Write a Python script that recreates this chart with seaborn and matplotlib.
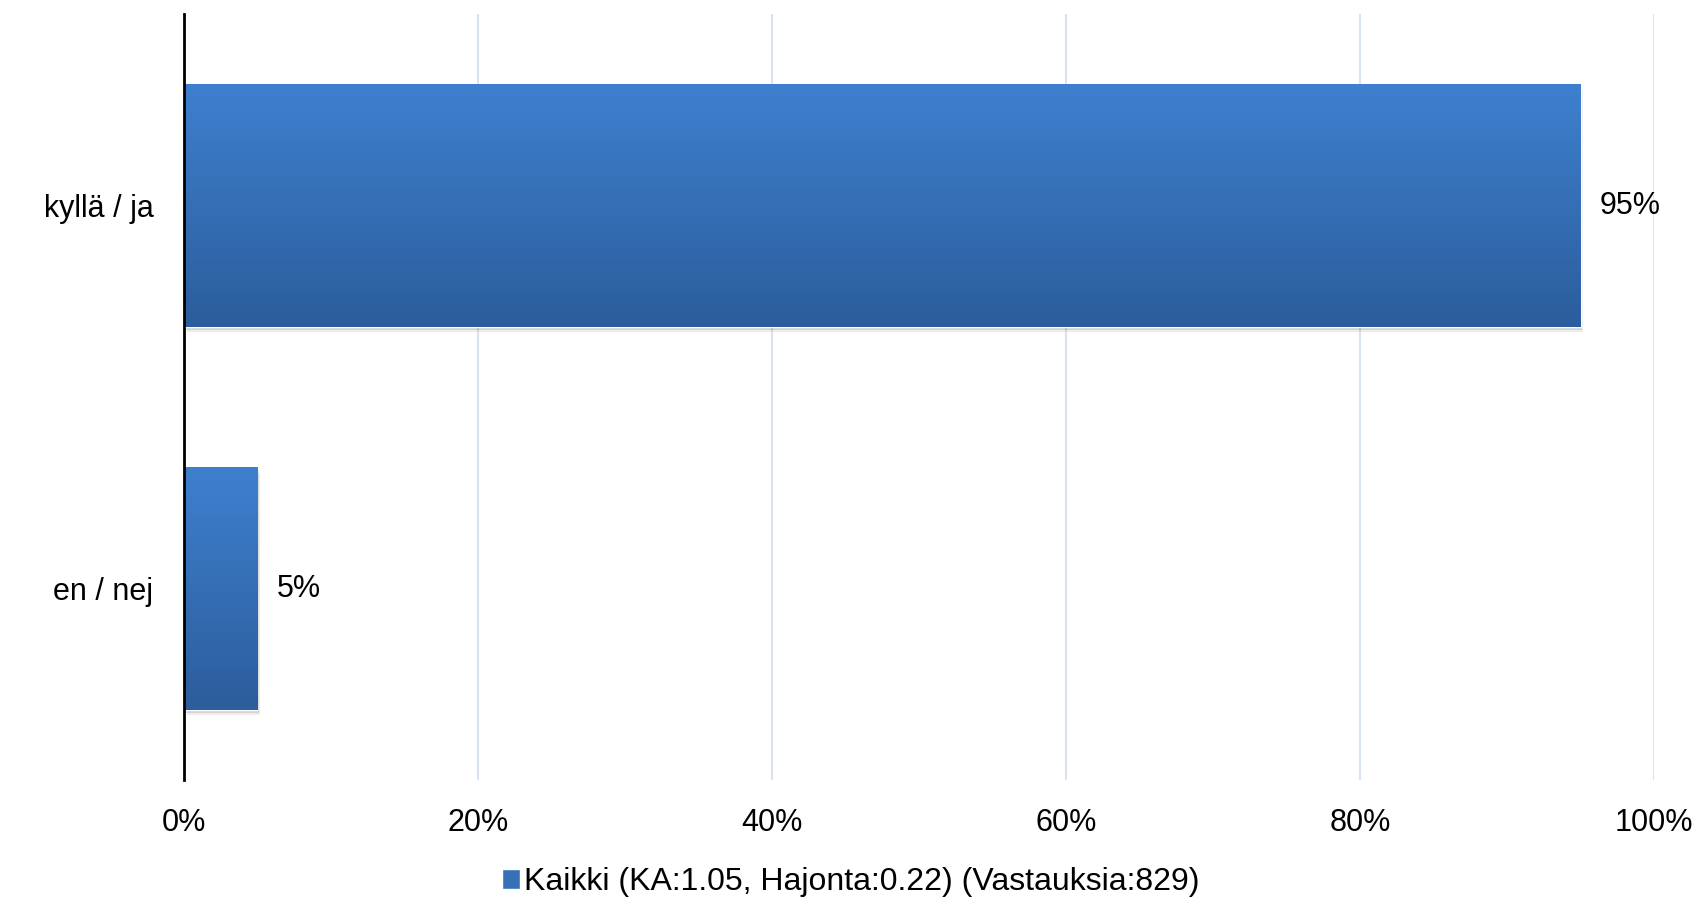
import matplotlib
matplotlib.use("Agg")
import matplotlib.pyplot as plt
import matplotlib.patheffects as pe
from matplotlib.colors import LinearSegmentedColormap
import numpy as np
import pandas as pd
import seaborn as sns

categories = ["kyllä / ja", "en / nej"]
values = [95, 5]
value_labels = ["95%", "5%"]
x_ticks = [0, 20, 40, 60, 80, 100]
x_tick_labels = ["0%", "20%", "40%", "60%", "80%", "100%"]
series_label = "Kaikki (KA:1.05, Hajonta:0.22) (Vastauksia:829)"

sns.set_theme(style="white")
plt.rcParams["font.family"] = ["Liberation Sans", "DejaVu Sans"]
plt.rcParams["text.color"] = "black"

top_c = "#3E80CF"
bot_c = "#2C5D9C"
mid_c = "#3570B8"

fig = plt.figure(figsize=(17.02, 8.98), dpi=100)
ax = fig.add_axes([0.1081, 0.1314, 0.8637, 0.853])
df = pd.DataFrame({"cat": categories, "val": values})
sns.barplot(data=df, y="cat", x="val", orient="h", color=mid_c, width=0.634,
            saturation=1, ax=ax, label=series_label, zorder=3)
if ax.get_legend() is not None:
    ax.get_legend().remove()

cmap = LinearSegmentedColormap.from_list("g", [top_c, bot_c])
grad = np.linspace(0, 1, 256).reshape(-1, 1)
for p in ax.patches:
    x0, y0 = p.get_x(), p.get_y()
    w, h = p.get_width(), p.get_height()
    p.set_path_effects([pe.SimplePatchShadow(offset=(1, -2), alpha=0.12, shadow_rgbFace="k"),
                        pe.SimplePatchShadow(offset=(2, -4), alpha=0.08, shadow_rgbFace="k"),
                        pe.Normal()])
    im = ax.imshow(grad, cmap=cmap, aspect="auto", extent=(x0, x0 + w, y0 + h, y0),
                   origin="upper", zorder=3.5, interpolation="bilinear")
    im.set_clip_path(p)

ax.set_xlim(0, 100)
ax.set_ylim(1.5, -0.5)
ax.set_xticks(x_ticks)
ax.set_xticklabels(x_tick_labels)
ax.set_xlabel("")
ax.set_ylabel("")
ax.xaxis.grid(True, color="#D9E4F0", lw=1.5)
ax.yaxis.grid(False)
ax.set_axisbelow(True)
for s in ["top", "right", "bottom"]:
    ax.spines[s].set_visible(False)
ax.spines["left"].set_color("black")
ax.spines["left"].set_linewidth(2)
ax.spines["left"].set_zorder(5)
ax.tick_params(axis="x", length=0, labelsize=22, pad=20, colors="black")
ax.tick_params(axis="y", length=0, labelsize=22, pad=22, colors="black")

ax.bar_label(ax.containers[0], labels=value_labels, padding=14, fontsize=22, color="black")

handles, labels = ax.get_legend_handles_labels()
leg = fig.legend(handles, labels, loc="lower center", bbox_to_anchor=(0.5, -0.024),
                 frameon=False, fontsize=23, handlelength=0.55, handleheight=0.55,
                 handletextpad=0.15, borderpad=0.2, labelcolor="black")
for hnd in leg.legend_handles:
    hnd.set_path_effects([])

fig.savefig("out.png", dpi=100)
